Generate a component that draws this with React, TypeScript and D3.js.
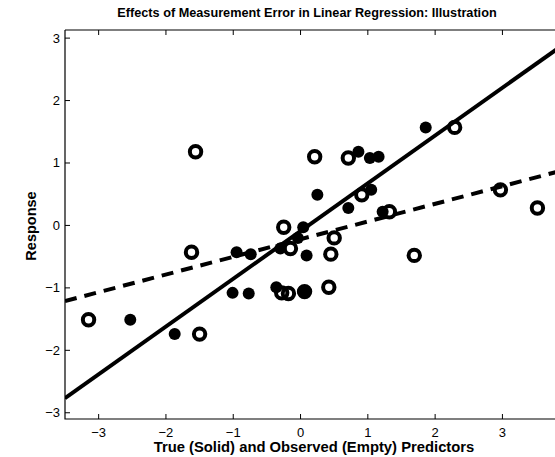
import React from "react";
import * as d3 from "d3";

// Shared response values and the two predictor versions (true vs. observed with error)
const response = [-1.51, -1.74, -0.43, -0.46, -0.48, 1.18, -0.03, -0.2, -0.37, -1.08, -1.09, -0.99, -1.06, 1.1, 1.08, 0.49, 0.22, 0.57, 0.28, 1.57];
const trueX = [-2.53, -1.87, -0.95, -0.74, 0.09, 0.86, 0.04, -0.04, -0.3, -1.01, -0.77, -0.36, 0.04, 1.16, 1.03, 0.25, 1.22, 1.05, 0.71, 1.86];
const observedX = [-3.15, -1.5, -1.62, 0.45, 1.69, -1.56, -0.25, 0.5, -0.15, -0.28, -0.18, 0.42, 0.06, 0.21, 0.71, 0.91, 1.32, 2.97, 3.52, 2.29];

// Fitted lines: [slope, intercept]
const fitTrue = [0.765, -0.09];
const fitObserved = [0.283, -0.22];

const xTicks = [-3, -2, -1, 0, 1, 2, 3];
const yTicks = [-3, -2, -1, 0, 1, 2, 3];

const title = "Effects of Measurement Error in Linear Regression: Illustration";
const xLabel = "True (Solid) and Observed (Empty) Predictors";
const yLabel = "Response";

const W = 555;
const H = 457;
const left = 65;
const right = 563;
const top = 30;
const bottom = 419;

export default function App() {
  const x = d3.scaleLinear().domain([-3.5, 3.9]).range([left, right]);
  const y = d3.scaleLinear().domain([-3.1, 3.13]).range([bottom, top]);
  const font = "'Liberation Sans', Arial, Helvetica, sans-serif";
  const xd = x.domain();
  const line = d3
    .line<number>()
    .x((v) => x(v))
    .y((v) => y(v));
  const lineFor = (f: number[]) => line.y((v) => y(f[0] * v + f[1]))(xd) || "";
  const tick = 5;

  return (
    <svg
      width={W}
      height={H}
      style={{ position: "fixed", left: 0, top: 0, background: "#fff" }}
      fontFamily={font}
    >
      <defs>
        <clipPath id="plotClip">
          <rect x={left} y={top} width={right - left} height={bottom - top} />
        </clipPath>
      </defs>
      <rect width={W} height={H} fill="#fff" />

      <g clipPath="url(#plotClip)">
        <path d={lineFor(fitTrue)} stroke="#000" strokeWidth={4} fill="none" />
        <path
          d={lineFor(fitObserved)}
          stroke="#000"
          strokeWidth={4}
          fill="none"
          strokeDasharray="12 8"
        />
        {trueX.map((v, i) => (
          <circle key={"t" + i} cx={x(v)} cy={y(response[i])} r={6} fill="#000" />
        ))}
        {observedX.map((v, i) => (
          <circle
            key={"o" + i}
            cx={x(v)}
            cy={y(response[i])}
            r={5.7}
            fill="none"
            stroke="#000"
            strokeWidth={4}
          />
        ))}
      </g>

      {/* axes box */}
      <path
        d={`M${left},${top}H${right + 5}M${left},${top}V${bottom}H${right + 5}`}
        stroke="#000"
        strokeWidth={1.2}
        fill="none"
      />
      {xTicks.map((t) => (
        <g key={"xt" + t}>
          <line x1={x(t)} x2={x(t)} y1={bottom} y2={bottom - tick} stroke="#000" />
          <line x1={x(t)} x2={x(t)} y1={top} y2={top + tick} stroke="#000" />
          <text x={x(t)} y={bottom + 18} textAnchor="middle" fontSize={13}>
            {t < 0 ? "\u2212" + Math.abs(t) : t}
          </text>
        </g>
      ))}
      {yTicks.map((t) => (
        <g key={"yt" + t}>
          <line x1={left} x2={left + tick} y1={y(t)} y2={y(t)} stroke="#000" />
          <text x={left - 5} y={y(t) + 4.5} textAnchor="end" fontSize={13}>
            {t < 0 ? "\u2212" + Math.abs(t) : t}
          </text>
        </g>
      ))}

      <text x={307} y={17} textAnchor="middle" fontSize={12.7} fontWeight="bold">
        {title}
      </text>
      <text x={314} y={452} textAnchor="middle" fontSize={14.8} fontWeight="bold">
        {xLabel}
      </text>
      <text
        transform={`translate(36,226) rotate(-90)`}
        textAnchor="middle"
        fontSize={14.5}
        fontWeight="bold"
      >
        {yLabel}
      </text>
    </svg>
  );
}
